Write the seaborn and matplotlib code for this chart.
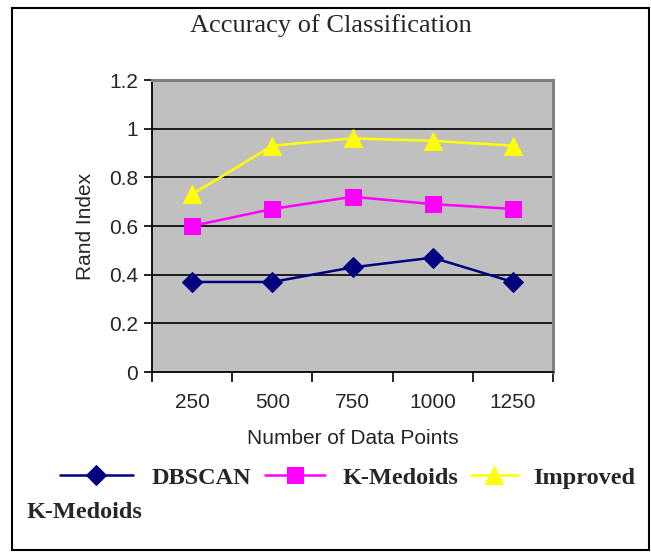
import numpy as np
import pandas as pd
import matplotlib
matplotlib.use("Agg")
import matplotlib.pyplot as plt
import seaborn as sns
from matplotlib.patches import Rectangle
from matplotlib.ticker import FixedLocator

categories = ["250", "500", "750", "1000", "1250"]
dbscan = [0.37, 0.37, 0.43, 0.47, 0.37]
kmedoids = [0.60, 0.67, 0.72, 0.69, 0.67]
improved = [0.73, 0.93, 0.96, 0.95, 0.93]
series_names = ["DBSCAN", "K-Medoids", "Improved K-Medoids"]
legend_labels = ["DBSCAN", "K-Medoids", "Improved"]
y_ticks = [0, 0.2, 0.4, 0.6, 0.8, 1, 1.2]
y_ticklabels = ["0", "0.2", "0.4", "0.6", "0.8", "1", "1.2"]

sns.set_theme(style="white")
plt.rcParams["font.family"] = ["Liberation Sans", "DejaVu Sans"]

rows = []
for name, vals in zip(series_names, [dbscan, kmedoids, improved]):
    for i, v in enumerate(vals):
        rows.append({"pos": i, "value": v, "series": name})
df = pd.DataFrame(rows)

fig = plt.figure(figsize=(6.51, 5.52), dpi=100)
ax = fig.add_axes([152 / 651, 1 - 372 / 552, (553 - 152) / 651, (372 - 80) / 552])
ax.set_facecolor("#C0C0C0")

palette = {"DBSCAN": "#000080", "K-Medoids": "#FF00FF", "Improved K-Medoids": "#FFFF00"}
markers = {"DBSCAN": "D", "K-Medoids": "s", "Improved K-Medoids": "^"}
msize = {"DBSCAN": 10, "K-Medoids": 11, "Improved K-Medoids": 13}

handles = []
for name in series_names:
    sub = df[df["series"] == name]
    sns.lineplot(data=sub, x="pos", y="value", ax=ax, color=palette[name],
                 marker=markers[name], markersize=msize[name], markeredgecolor=palette[name],
                 linewidth=1.8, legend=False, zorder=3)
    handles.append(ax.lines[-1])

ax.set_xlim(-0.5, len(categories) - 0.5)
ax.set_ylim(0, 1.2)
ax.set_yticks(y_ticks)
ax.set_yticklabels(y_ticklabels, fontsize=15)
ax.set_xticks(range(len(categories)))
ax.set_xticklabels(categories, fontsize=15)
ax.xaxis.set_minor_locator(FixedLocator(np.arange(-0.5, len(categories), 1.0)))
ax.tick_params(axis="x", which="major", length=0, pad=15)
ax.tick_params(axis="x", which="minor", length=7, width=1.2, color="black", direction="out", bottom=True)
ax.tick_params(axis="y", which="major", length=6, width=1.2, color="black", direction="out", left=True, pad=4)
for y in y_ticks[1:-1]:
    ax.axhline(y, color="black", linewidth=1.2, zorder=1)

for side in ["left", "bottom"]:
    ax.spines[side].set_color("black")
    ax.spines[side].set_linewidth(1.3)
for side in ["top", "right"]:
    ax.spines[side].set_color("#808080")
    ax.spines[side].set_linewidth(2.2)

ax.set_xlabel("Number of Data Points", fontsize=15, labelpad=12)
ax.set_ylabel("Rand Index", fontsize=15, labelpad=10)
fig.text(331 / 651, 1 - 26 / 552, "Accuracy of Classification", ha="center", va="center",
         fontsize=19, family="Liberation Serif")

leg_font = {"family": "Liberation Serif", "weight": "bold", "size": 17.5}
leg_specs = [(60, 3.0, 0.78), (265, 2.47, 0.7), (471, 1.93, 0.62)]
for h, lab, (x0, hl, tp) in zip(handles, legend_labels, leg_specs):
    lg = fig.legend([h], [lab], loc="center left", bbox_to_anchor=(x0 / 651, 1 - 478 / 552),
                    frameon=False, borderpad=0, borderaxespad=0,
                    handlelength=hl, handletextpad=tp, prop=leg_font)
fig.text(27 / 651, 1 - 512 / 552, "K-Medoids", ha="left", va="center",
         fontsize=17.5, fontweight="bold", family="Liberation Serif")

fig.patches.append(Rectangle((12 / 651, 2 / 552), 637 / 651, 542 / 552, transform=fig.transFigure,
                             fill=False, edgecolor="black", linewidth=1.5))

fig.savefig("out.png", dpi=100)
